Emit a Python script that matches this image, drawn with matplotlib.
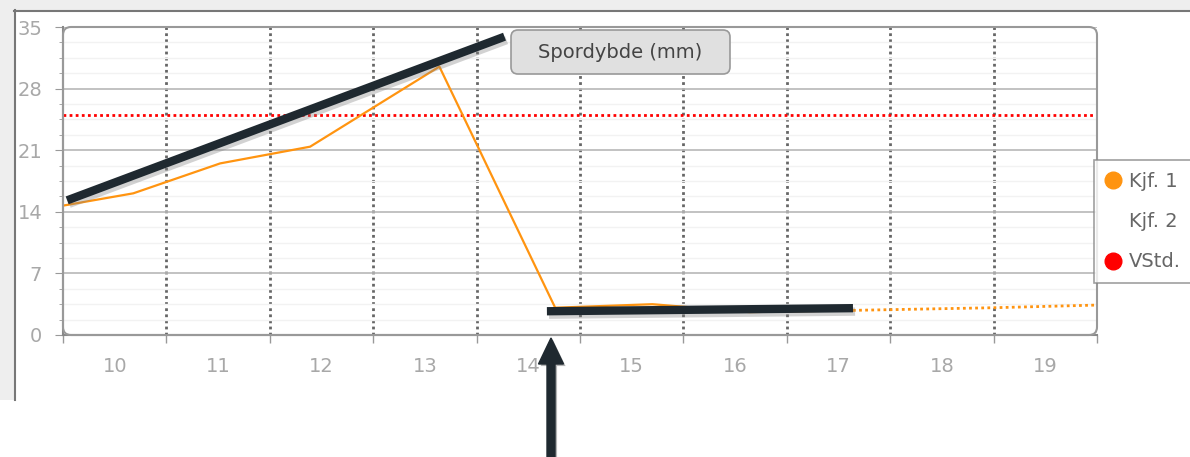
import numpy as np
import matplotlib
matplotlib.use("Agg")
import matplotlib.pyplot as plt
import matplotlib.patheffects as pe
from matplotlib.patches import Rectangle, FancyBboxPatch, FancyArrow
from matplotlib.lines import Line2D

# categories on the x axis
categories = [10, 11, 12, 13, 14, 15, 16, 17, 18, 19]

# Kjf. 1 measurements (x is position along the category axis)
kjf1_x = [9.5, 10.18, 11.02, 11.89, 13.14, 14.26, 15.2, 16.14, 17.14]
kjf1_y = [14.7, 16.1, 19.5, 21.4, 30.5, 3.1, 3.5, 2.6, 2.8]

# dotted continuation of Kjf. 1
trend_x = [17.14, 18.5, 19.5]
trend_y = [2.8, 3.1, 3.4]

# limit value (VStd.)
vstd = 25

# highlight lines drawn on top (data coords)
hl1_x = [9.54, 13.77]
hl1_y = [15.3, 33.9]
hl2_x = [14.18, 17.14]
hl2_y = [2.7, 3.05]

orange = '#ff9410'
dark = '#1f2930'
grey_txt = '#a8a8a8'

fig = plt.figure(figsize=(11.9, 4.57), dpi=100)
ax = fig.add_axes([63 / 1190, 1 - 335 / 457, 1034 / 1190, 308 / 457])

# outer panel frame
fig.add_artist(Rectangle((0, 4.47), 11.9, 0.1, transform=fig.dpi_scale_trans,
                         facecolor='#eeeeee', edgecolor='none', zorder=0))
fig.add_artist(Rectangle((0, 0.57), 0.14, 4.0, transform=fig.dpi_scale_trans,
                         facecolor='#eeeeee', edgecolor='none', zorder=0))
fig.add_artist(Line2D([0.14, 11.9], [4.465, 4.465], transform=fig.dpi_scale_trans,
                      color='#777777', lw=1.5))
fig.add_artist(Line2D([0.15, 0.15], [0.57, 4.47], transform=fig.dpi_scale_trans,
                      color='#777777', lw=1.5))

ax.set_xlim(9.5, 19.5)
ax.set_ylim(0, 35)

# grid
bounds = np.arange(9.5, 20, 1)
ax.set_yticks(np.arange(0, 36, 7))
ax.set_yticks(np.arange(0, 35.1, 1.75), minor=True)
ax.grid(axis='y', which='minor', color='#f2f2f2', lw=1)
ax.grid(axis='y', which='major', color='#b8b8b8', lw=1.2)
ax.vlines(bounds[1:-1], 0, 35, colors='#666666', lw=2, linestyles=(0, (1, 1.2)), zorder=1)

ax.set_xticks(bounds)
ax.set_xticklabels([])
ax.set_xticks(categories, minor=True)
ax.set_xticklabels([str(c) for c in categories], minor=True)

ax.tick_params(axis='x', which='major', length=6, color='#999999', width=1)
ax.tick_params(axis='x', which='minor', length=0, pad=16, labelsize=14, labelcolor=grey_txt)
ax.tick_params(axis='y', which='major', length=6, color='#999999', pad=9,
               labelsize=14, labelcolor=grey_txt)
ax.tick_params(axis='y', which='minor', length=3, color='#999999')

for s in ['top', 'right']:
    ax.spines[s].set_visible(False)
for s in ['left', 'bottom']:
    ax.spines[s].set_color('#888888')
    ax.spines[s].set_linewidth(1.5)

# rounded plot frame
fig.add_artist(FancyBboxPatch((0.63, 1.22), 10.34, 3.08, transform=fig.dpi_scale_trans,
                              boxstyle='round,pad=0,rounding_size=0.08',
                              facecolor='none', edgecolor='#999999', lw=1.5))

# series
ax.axhline(vstd, color='red', lw=2, linestyle=(0, (1, 1.2)), zorder=3)
ax.plot(kjf1_x, kjf1_y, color=orange, lw=1.6, zorder=4)
ax.plot(trend_x, trend_y, color=orange, lw=2, linestyle=(0, (1, 1.2)), zorder=4)

# highlight lines
shadow = [pe.SimpleLineShadow(offset=(1.5, -2.5), shadow_color='gray', alpha=0.35), pe.Normal()]
ax.plot(hl1_x, hl1_y, color=dark, lw=6, solid_capstyle='butt', zorder=6,
        path_effects=shadow, clip_on=False)
ax.plot(hl2_x, hl2_y, color=dark, lw=6, solid_capstyle='butt', zorder=6,
        path_effects=shadow, clip_on=False)

# arrow from below
arrow = FancyArrow(5.51, -0.1, 0, 1.29, width=0.08, head_width=0.25, head_length=0.26,
                   length_includes_head=True, transform=fig.dpi_scale_trans,
                   color=dark, zorder=7)
arrow.set_path_effects([pe.withSimplePatchShadow(offset=(1.5, -1.5), alpha=0.3)])
fig.add_artist(arrow)

# label box
fig.add_artist(FancyBboxPatch((5.11, 4.57 - 0.74), 2.19, 0.44, transform=fig.dpi_scale_trans,
                              boxstyle='round,pad=0,rounding_size=0.07',
                              facecolor='#e0e0e0', edgecolor='#999999', lw=1.2, zorder=8))
fig.text(6.205 / 11.9, (4.57 - 0.52) / 4.57, 'Spordybde (mm)', ha='center', va='center',
         fontsize=14, color='#444444', zorder=9)

# legend
handles = [
    Line2D([], [], marker='o', ls='none', color=orange, markersize=12),
    Line2D([], [], marker='o', ls='none', color='none', markersize=12),
    Line2D([], [], marker='o', ls='none', color='red', markersize=12),
]
leg = fig.legend(handles, ['Kjf. 1', 'Kjf. 2', 'VStd.'], loc='upper left',
                 bbox_to_anchor=(1094 / 1190, 1 - 160 / 457), borderaxespad=0,
                 fontsize=14, labelcolor='#666666', frameon=True, fancybox=False,
                 edgecolor='#888888', handlelength=0.8, handletextpad=0.4,
                 borderpad=0.6, labelspacing=1.1)
leg.get_frame().set_linewidth(1.2)

fig.savefig('out.png', dpi=100)
